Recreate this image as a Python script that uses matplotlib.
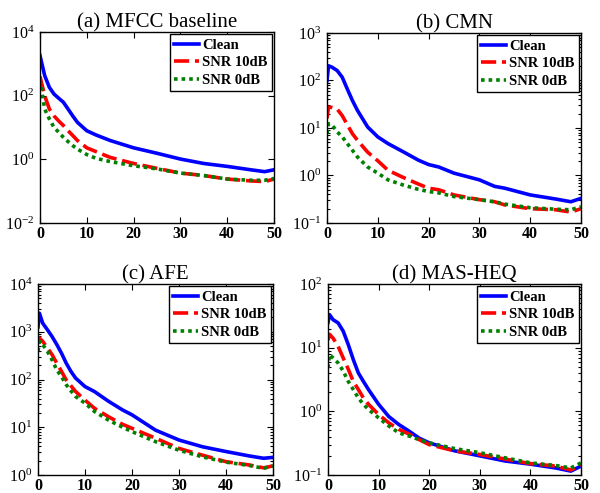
import numpy as np
import matplotlib
import matplotlib.pyplot as plt
from matplotlib.ticker import LogLocator, NullFormatter, NullLocator

matplotlib.rcParams['font.family'] = 'Liberation Serif'
matplotlib.rcParams['mathtext.fontset'] = 'custom'
matplotlib.rcParams['mathtext.rm'] = 'Liberation Serif:bold'
matplotlib.rcParams['mathtext.it'] = 'Liberation Serif:bold'
matplotlib.rcParams['mathtext.bf'] = 'Liberation Serif:bold'

labels = ['Clean', 'SNR 10dB', 'SNR 0dB']

# (a) MFCC baseline
xa = [0, 1, 2, 3, 4, 5, 6, 7, 8, 10, 12, 15, 20, 25, 30, 35, 40, 45, 48, 50]
a_clean = [1820, 427, 182, 112, 83, 62, 38, 23, 14.5, 7.9, 5.8, 3.9, 2.3, 1.55, 1.02, 0.74, 0.60, 0.47, 0.41, 0.47]
a_10db = [400, 100, 38, 23, 16, 11.5, 7.9, 5.6, 3.9, 2.3, 1.74, 1.15, 0.74, 0.52, 0.37, 0.31, 0.24, 0.21, 0.20, 0.24]
a_0db = [316, 38, 18.6, 10, 7.1, 4.9, 3.6, 2.7, 2.1, 1.41, 1.07, 0.85, 0.63, 0.50, 0.37, 0.31, 0.24, 0.22, 0.22, 0.25]

# (b) CMN
xb = [0, 0.3, 1, 2, 3, 4, 5, 6, 8, 10, 12, 15, 18, 20, 22, 25, 30, 33, 35, 40, 45, 48, 50]
b_clean = [100, 204, 190, 162, 117, 66, 38, 23.4, 10.5, 6.5, 4.7, 3.16, 2.1, 1.7, 1.51, 1.12, 0.81, 0.59, 0.54, 0.39, 0.32, 0.28, 0.33]
b_10db = [16, 27.5, 27, 25, 18.2, 11.7, 7.6, 5.5, 3.1, 2.04, 1.29, 0.91, 0.66, 0.54, 0.50, 0.39, 0.31, 0.28, 0.24, 0.20, 0.19, 0.17, 0.20]
b_0db = [7.6, 12.3, 11.5, 8.3, 6.5, 4.7, 3.4, 2.45, 1.51, 1.12, 0.81, 0.63, 0.51, 0.46, 0.43, 0.36, 0.31, 0.28, 0.25, 0.21, 0.195, 0.19, 0.22]

# (c) AFE
xc = [0, 0.3, 1, 2, 3, 4, 5, 6, 7, 8, 10, 12, 15, 18, 20, 25, 30, 35, 40, 45, 48, 50]
c_clean = [1260, 2450, 1510, 1100, 790, 540, 355, 220, 148, 107, 71, 56, 35, 23, 18.2, 8.7, 5.4, 3.9, 3.1, 2.5, 2.24, 2.34]
c_10db = [560, 740, 630, 457, 331, 219, 148, 98, 74, 56, 37, 25, 16.6, 11.5, 9.5, 5.9, 3.6, 2.6, 1.9, 1.62, 1.41, 1.55]
c_0db = [390, 630, 537, 390, 257, 158, 115, 78, 58, 44, 32, 21.4, 14.1, 10, 8.1, 5.0, 3.3, 2.4, 1.86, 1.58, 1.38, 1.55]

# (d) MAS-HEQ
xd = [0, 0.3, 1, 2, 3, 4, 5, 6, 7, 8, 10, 12, 14, 16, 18, 20, 25, 30, 35, 40, 45, 48, 50]
d_clean = [25, 33, 27.5, 24.5, 18.2, 11.2, 6.5, 4.0, 2.95, 2.2, 1.29, 0.83, 0.62, 0.49, 0.38, 0.32, 0.24, 0.20, 0.166, 0.148, 0.129, 0.115, 0.138]
d_10db = [13.2, 16.2, 14.1, 10.5, 6.9, 4.6, 2.95, 2.2, 1.62, 1.29, 0.89, 0.66, 0.52, 0.44, 0.36, 0.30, 0.24, 0.21, 0.178, 0.151, 0.138, 0.120, 0.145]
d_0db = [4.8, 7.8, 6.9, 5.75, 4.3, 2.95, 2.2, 1.62, 1.29, 1.07, 0.79, 0.59, 0.46, 0.41, 0.36, 0.32, 0.26, 0.224, 0.186, 0.155, 0.141, 0.129, 0.155]

panels = [
    ('(a) MFCC baseline', xa, a_clean, a_10db, a_0db, (1e-2, 1e4), [1e-2, 1e0, 1e2, 1e4], False,
     [40/600., 1-223/493., 234/600., 191/493.]),
    ('(b) CMN', xb, b_clean, b_10db, b_0db, (1e-1, 1e3), [1e-1, 1e0, 1e1, 1e2, 1e3], True,
     [327/600., 1-223/493., 254/600., 190/493.]),
    ('(c) AFE', xc, c_clean, c_10db, c_0db, (1e0, 1e4), [1e0, 1e1, 1e2, 1e3, 1e4], True,
     [38/600., 1-475/493., 235/600., 191/493.]),
    ('(d) MAS-HEQ', xd, d_clean, d_10db, d_0db, (1e-1, 1e2), [1e-1, 1e0, 1e1, 1e2], True,
     [328/600., 1-475/493., 253/600., 191/493.]),
]

fig = plt.figure(figsize=(6, 4.93), dpi=100)
for title, x, yc, y10, y0, ylim, yt, minor, pos in panels:
    ax = fig.add_axes(pos)
    ax.semilogy(x, yc, color=(0, 0, 1), lw=2.6, label=labels[0])
    ax.semilogy(x, y10, color=(1, 0, 0), lw=2.6, dashes=(4.2, 1.6), label=labels[1])
    ax.semilogy(x, y0, color=(0, 0.5, 0), lw=2.6, dashes=(1.0, 1.1), label=labels[2])
    ax.set_xlim(0, 50)
    ax.set_ylim(*ylim)
    ax.set_xticks([0, 10, 20, 30, 40, 50])
    ax.set_yticks(yt)
    if minor:
        ax.yaxis.set_minor_locator(LogLocator(base=10, subs=np.arange(2, 10)))
    else:
        ax.yaxis.set_minor_locator(NullLocator())
    ax.yaxis.set_minor_formatter(NullFormatter())
    ax.xaxis.set_minor_locator(NullLocator())
    ax.tick_params(which='both', direction='in', top=True, right=True, width=0.8)
    ax.tick_params(which='major', length=4, labelsize=11.5)
    ax.tick_params(axis='y', which='major', pad=4)
    ax.tick_params(axis='x', which='major', pad=2)
    ax.tick_params(which='minor', length=2)
    for lab in ax.get_xticklabels():
        lab.set_fontweight('bold')
    for s in ax.spines.values():
        s.set_linewidth(1.0)
    ax.set_title(title, fontsize=15, pad=3)
    leg = ax.legend(loc='upper right', borderaxespad=0.15, handlelength=1.7,
                    handletextpad=0.2, labelspacing=0.3, borderpad=0.3,
                    fancybox=False, framealpha=1,
                    prop={'family': 'Liberation Serif', 'weight': 'bold', 'size': 10.5})
    leg.get_frame().set_edgecolor('black')
    leg.get_frame().set_linewidth(1.0)

plt.savefig('out.png', dpi=100)
